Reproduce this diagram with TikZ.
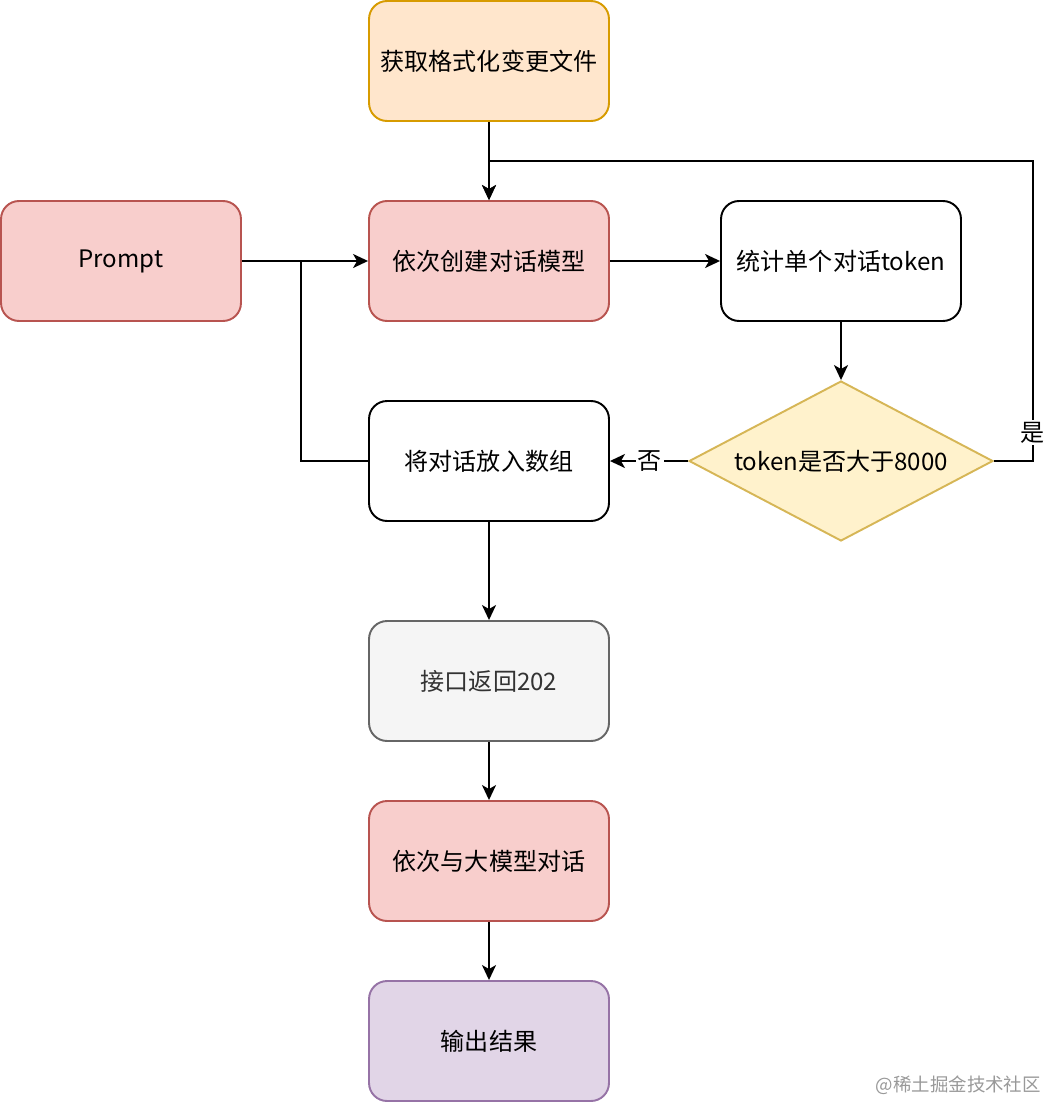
\documentclass[tikz,border=0pt]{standalone}
\usepackage{fontspec}
\setmainfont{Noto Sans CJK SC}
\usepackage{xcolor}
\definecolor{orangefill}{HTML}{FFE6CC}
\definecolor{orangeline}{HTML}{D79B00}
\definecolor{redfill}{HTML}{F8CECC}
\definecolor{redline}{HTML}{B85450}
\definecolor{yellowfill}{HTML}{FFF2CC}
\definecolor{yellowline}{HTML}{D6B656}
\definecolor{greyfill}{HTML}{F5F5F5}
\definecolor{greyline}{HTML}{666666}
\definecolor{greytext}{HTML}{333333}
\definecolor{purplefill}{HTML}{E1D5E7}
\definecolor{purpleline}{HTML}{9673A6}
\usetikzlibrary{shapes.geometric, arrows.meta}

\begin{document}
\begin{tikzpicture}[x=0.02cm, y=-0.02cm,
	box/.style={rectangle, draw=black, fill=white, rounded corners=0.36cm, line width=1.1pt,
	            align=center, minimum width=4.8cm, minimum height=2.4cm,
	            font=\fontsize{13.7}{16}\selectfont, inner sep=0pt},
	start/.style={box, draw=orangeline, fill=orangefill},
	redbox/.style={box, draw=redline, fill=redfill},
	greybox/.style={box, draw=greyline, fill=greyfill, text=greytext},
	endbox/.style={box, draw=purpleline, fill=purplefill},
	check/.style={diamond, draw=yellowline, fill=yellowfill, line width=1.1pt, aspect=1.9,
	              minimum width=6.08cm, minimum height=3.2cm, inner sep=0pt,
	              font=\fontsize{13.7}{16}\selectfont},
	lbl/.style={fill=white, inner sep=1pt, font=\fontsize{13.7}{16}\selectfont},
	arr/.style={-{Stealth[length=3mm, width=2.8mm, inset=0.8mm]}, line width=1.1pt}
	]
\useasboundingbox (0,0) rectangle (1052,1102);

\node[start]   (fetch)  at (489,61)   {获取格式化变更文件};
\node[redbox]  (prompt) at (121,261)  {Prompt};
\node[redbox]  (create) at (489,261)  {依次创建对话模型};
\node[box]     (count)  at (841,261)  {统计单个对话token};
\node[check]   (limit)  at (841,461)  {token是否大于8000};
\node[box]     (push)   at (489,461)  {将对话放入数组};
\node[greybox] (ret)    at (489,681)  {接口返回202};
\node[redbox]  (chat)   at (489,861)  {依次与大模型对话};
\node[endbox]  (out)    at (489,1041) {输出结果};

\coordinate (join) at (301,261);
\coordinate (loop) at (1033,161);

\draw[arr] (fetch) -- (create);
\draw[arr] (prompt) -- (create);
\draw[line width=1.1pt] (push.west) -| (join);
\draw[arr] (create) -- (count);
\draw[arr] (count) -- (limit);
\draw[arr] (limit.west) -- node[lbl, pos=0.49] {否} (push.east);
\draw[arr] (limit.east) -| node[lbl, pos=0.547] {是} (loop) -| (create.north);
\draw[arr] (push) -- (ret);
\draw[arr] (ret) -- (chat);
\draw[arr] (chat) -- (out);

\node[text=black!40, anchor=east, font=\fontsize{10.5}{12}\selectfont] (mark) at (1047,1085) {@稀土掘金技术社区};
\end{tikzpicture}
\end{document}
